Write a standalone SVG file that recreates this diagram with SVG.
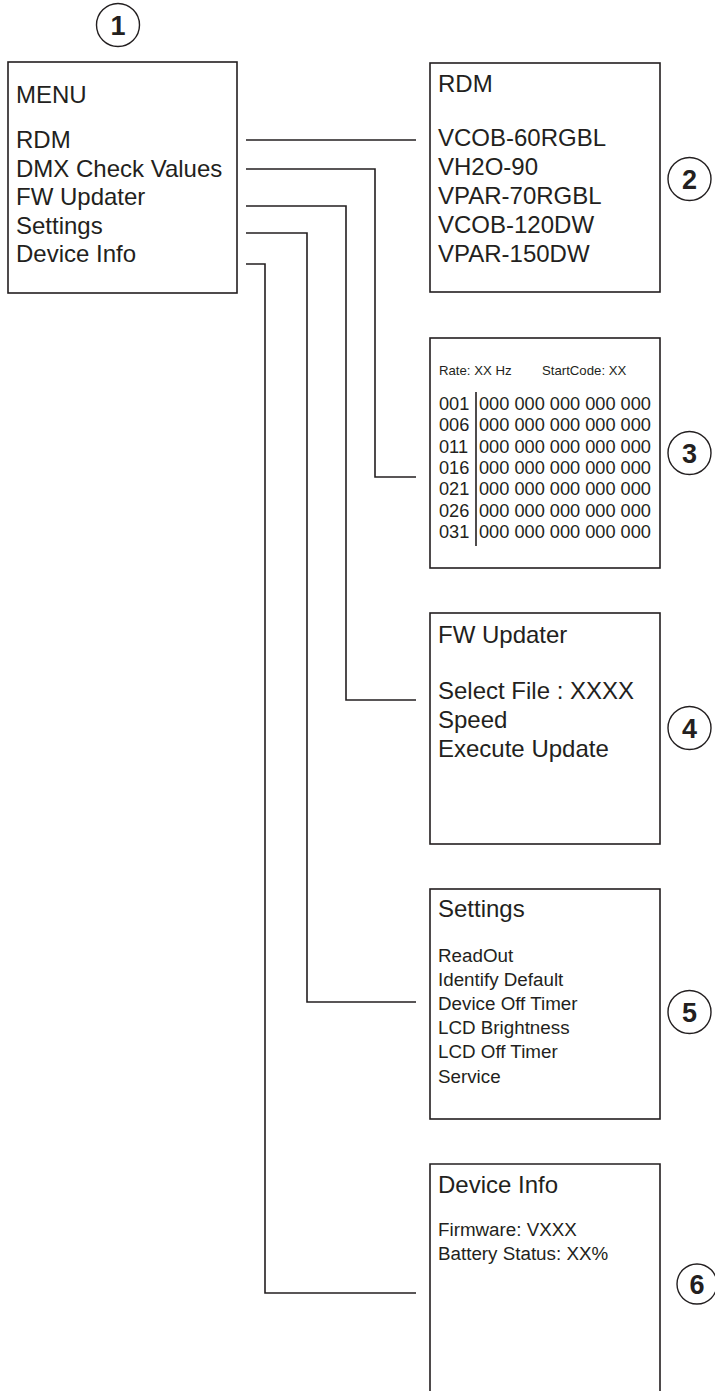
<svg xmlns="http://www.w3.org/2000/svg" width="715" height="1391" viewBox="0 0 715 1391">
<style>
.box{fill:#fff;stroke:#231f20;stroke-width:1.6}
.conn{fill:none;stroke:#231f20;stroke-width:1.6}
.num{fill:none;stroke:#231f20;stroke-width:1.4}
text{font-family:"Liberation Sans",Arial,sans-serif;fill:#231f20}
.t{font-size:24px}
.s{font-size:18.8px}
.d{font-size:18.2px}
.r{font-size:13.2px}
.n{font-size:27px;font-weight:bold;text-anchor:middle}
</style>
<rect width="715" height="1391" fill="#fff"/>
<g id="connectors">
<path class="conn" d="M246,140 H416"/>
<path class="conn" d="M246,169 H375 V477 H416"/>
<path class="conn" d="M246,206 H346 V700 H416"/>
<path class="conn" d="M246,233 H307 V1002 H416"/>
<path class="conn" d="M246,264 H265 V1293 H416"/>
</g>
<g id="menu">
<rect class="box" x="8" y="62" width="229" height="231"/>
<text class="t" x="16" y="103">MENU</text>
<text class="t" x="16" y="148">RDM</text>
<text class="t" x="16" y="177">DMX Check Values</text>
<text class="t" x="16" y="205">FW Updater</text>
<text class="t" x="16" y="234">Settings</text>
<text class="t" x="16" y="262">Device Info</text>
<circle class="num" cx="118" cy="25" r="21.5"/>
<text class="n" x="118" y="34.5">1</text>
</g>
<g id="rdm">
<rect class="box" x="430" y="63" width="230" height="229"/>
<text class="t" x="438" y="92">RDM</text>
<text class="t" x="438" y="146">VCOB-60RGBL</text>
<text class="t" x="438" y="175">VH2O-90</text>
<text class="t" x="438" y="204">VPAR-70RGBL</text>
<text class="t" x="438" y="233">VCOB-120DW</text>
<text class="t" x="438" y="262">VPAR-150DW</text>
<circle class="num" cx="689.5" cy="179" r="21.5"/>
<text class="n" x="689.5" y="188.5">2</text>
</g>
<g id="dmx">
<rect class="box" x="430" y="338" width="230" height="230"/>
<text class="r" x="439" y="375">Rate: XX Hz</text>
<text class="r" x="542" y="375">StartCode: XX</text>
<line class="conn" x1="476" y1="392" x2="476" y2="546"/>
<text class="d" x="439" y="410">001</text><text class="d" x="479" y="410">000 000 000 000 000</text>
<text class="d" x="439" y="431.3">006</text><text class="d" x="479" y="431.3">000 000 000 000 000</text>
<text class="d" x="439" y="452.7">011</text><text class="d" x="479" y="452.7">000 000 000 000 000</text>
<text class="d" x="439" y="474">016</text><text class="d" x="479" y="474">000 000 000 000 000</text>
<text class="d" x="439" y="495.3">021</text><text class="d" x="479" y="495.3">000 000 000 000 000</text>
<text class="d" x="439" y="516.7">026</text><text class="d" x="479" y="516.7">000 000 000 000 000</text>
<text class="d" x="439" y="538">031</text><text class="d" x="479" y="538">000 000 000 000 000</text>
<circle class="num" cx="689.5" cy="453" r="21.5"/>
<text class="n" x="689.5" y="462.5">3</text>
</g>
<g id="fw">
<rect class="box" x="430" y="613" width="230" height="231"/>
<text class="t" x="438" y="643">FW Updater</text>
<text class="t" x="438" y="699">Select File : XXXX</text>
<text class="t" x="438" y="728">Speed</text>
<text class="t" x="438" y="757">Execute Update</text>
<circle class="num" cx="689.5" cy="728" r="21.5"/>
<text class="n" x="689.5" y="737.5">4</text>
</g>
<g id="settings">
<rect class="box" x="430" y="889" width="230" height="230"/>
<text class="t" x="438" y="917">Settings</text>
<text class="s" x="438" y="962">ReadOut</text>
<text class="s" x="438" y="986">Identify Default</text>
<text class="s" x="438" y="1009.5">Device Off Timer</text>
<text class="s" x="438" y="1034">LCD Brightness</text>
<text class="s" x="438" y="1058.3">LCD Off Timer</text>
<text class="s" x="438" y="1082.7">Service</text>
<circle class="num" cx="689.5" cy="1012" r="21.5"/>
<text class="n" x="689.5" y="1021.5">5</text>
</g>
<g id="info">
<path class="conn" d="M430,1400 V1164 H660 V1400"/>
<text class="t" x="438" y="1193">Device Info</text>
<text class="s" x="438" y="1236">Firmware: VXXX</text>
<text class="s" x="438" y="1260">Battery Status: XX%</text>
<circle class="num" cx="697" cy="1284" r="20"/>
<text class="n" x="697" y="1293.5">6</text>
</g>
</svg>
